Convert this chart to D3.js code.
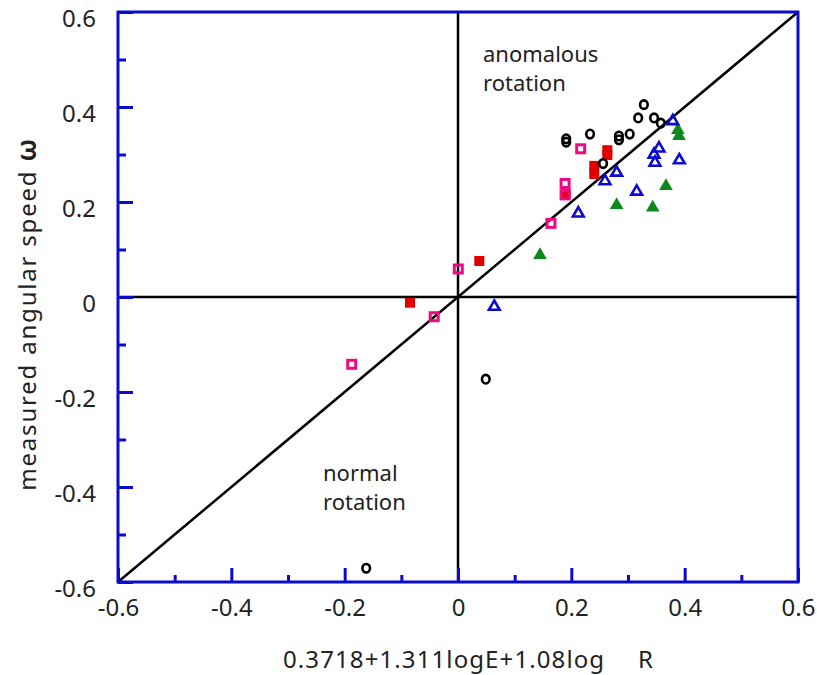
<!DOCTYPE html>
<html>
<head>
<meta charset="utf-8">
<script src="https://cdn.jsdelivr.net/npm/d3@7"></script>
<style>
  body { margin: 0; background: #fff; }
  svg { display: block; }
  text { font-family: "Noto Sans", "DejaVu Sans", sans-serif; fill: #222; }
</style>
</head>
<body>
<svg id="chart" width="817" height="675"></svg>
<script>
// Tick values for both axes
const majorTicks = [-0.6, -0.4, -0.2, 0, 0.2, 0.4, 0.6];
const minorTicks = [-0.5, -0.3, -0.1, 0.1, 0.3, 0.5];

// Series: [predicted, measured ω]
const blackCircles = [
  [0.191, 0.326], [0.191, 0.333], [0.233, 0.343], [0.284, 0.331], [0.284, 0.339],
  [0.303, 0.343], [0.318, 0.377], [0.328, 0.405], [0.346, 0.377], [0.358, 0.366],
  [0.256, 0.281], [0.049, -0.173], [-0.162, -0.571]
];
const pinkOpenSquares = [
  [0.2165, 0.312], [0.189, 0.239], [0.189, 0.215], [0.164, 0.155],
  [0.0005, 0.059], [-0.042, -0.0415], [-0.1876, -0.1417]
];
const redFilledSquares = [
  [0.2635, 0.309], [0.2635, 0.299], [0.2405, 0.276], [0.2405, 0.259],
  [0.190, 0.217], [0.0376, 0.0758], [-0.0847, -0.012]
];
const blueOpenTriangles = [
  [0.3547, 0.313], [0.3459, 0.300], [0.3476, 0.283], [0.3905, 0.288],
  [0.280, 0.262], [0.2594, 0.244], [0.3153, 0.222], [0.2123, 0.176],
  [0.064, -0.0204], [0.379, 0.3705]
];
const greenFilledTriangles = [
  [0.367, 0.2337], [0.280, 0.1937], [0.3436, 0.188], [0.1447, 0.0884],
  [0.388, 0.3516], [0.390, 0.339]
];

const svg = d3.select("#chart");
const L = 118, R = 798, T = 12, B = 582;
const x = d3.scaleLinear().domain([-0.6, 0.6]).range([L, R]);
const y = d3.scaleLinear().domain([-0.6, 0.6]).range([B, T]);

const axisBlue = "#0a0ad0";
const fmt = d => String(d);

// Reference lines: axes through origin and the y = x diagonal
const ref = svg.append("g").attr("stroke", "#000").attr("stroke-width", 2.5);
ref.append("line").attr("x1", x(-0.6)).attr("x2", x(0.6)).attr("y1", y(0)).attr("y2", y(0));
ref.append("line").attr("x1", x(0)).attr("x2", x(0)).attr("y1", y(-0.6)).attr("y2", y(0.6));
ref.append("line").attr("x1", x(-0.6)).attr("y1", y(-0.6)).attr("x2", x(0.6)).attr("y2", y(0.6));

// Frame
svg.append("rect").attr("x", L).attr("y", T).attr("width", R - L).attr("height", B - T)
  .attr("fill", "none").attr("stroke", axisBlue).attr("stroke-width", 3);

function styleAxis(g) {
  g.select(".domain").remove();
  g.selectAll(".tick line").attr("stroke", axisBlue).attr("stroke-width", 3);
  g.selectAll(".tick text").attr("font-size", 24).attr("fill", "#222")
    .attr("font-family", '"Noto Sans", "DejaVu Sans", sans-serif');
}

// Left axis: inward ticks
svg.append("g").attr("transform", `translate(${L},0)`)
  .call(d3.axisLeft(y).tickValues(majorTicks).tickSize(-15).tickPadding(22).tickFormat(fmt))
  .call(styleAxis)
  .selectAll(".tick text").attr("dy", "0.62em");
svg.append("g").attr("transform", `translate(${L},0)`)
  .call(d3.axisLeft(y).tickValues(minorTicks).tickSize(-8).tickFormat(""))
  .call(styleAxis);

// Bottom axis: inward ticks
svg.append("g").attr("transform", `translate(0,${B})`)
  .call(d3.axisBottom(x).tickValues(majorTicks).tickSize(-14).tickPadding(17).tickFormat(fmt))
  .call(styleAxis);
svg.append("g").attr("transform", `translate(0,${B})`)
  .call(d3.axisBottom(x).tickValues(minorTicks).tickSize(-7).tickFormat(""))
  .call(styleAxis);

// Markers
const sq = 10;

svg.append("g").selectAll("rect").data(redFilledSquares).join("rect")
  .attr("x", d => x(d[0]) - sq / 2).attr("y", d => y(d[1]) - sq / 2)
  .attr("width", sq).attr("height", sq).attr("fill", "#e00000");

svg.append("g").selectAll("rect").data(pinkOpenSquares).join("rect")
  .attr("x", d => x(d[0]) - 4).attr("y", d => y(d[1]) - 4)
  .attr("width", 8).attr("height", 8).attr("fill", "none").attr("stroke", "#ec0a84").attr("stroke-width", 3);

svg.append("g").selectAll("path").data(greenFilledTriangles).join("path")
  .attr("d", d3.symbol().type(d3.symbolTriangle).size(80))
  .attr("transform", d => `translate(${x(d[0])},${y(d[1])})`)
  .attr("fill", "#0a8a1a");

svg.append("g").selectAll("path").data(blueOpenTriangles).join("path")
  .attr("d", d3.symbol().type(d3.symbolTriangle).size(50))
  .attr("transform", d => `translate(${x(d[0])},${y(d[1])})`)
  .attr("fill", "none").attr("stroke", "#0a0ad0").attr("stroke-width", 2.6);

svg.append("g").selectAll("ellipse").data(blackCircles).join("ellipse")
  .attr("cx", d => x(d[0])).attr("cy", d => y(d[1])).attr("rx", 3.8).attr("ry", 4.3)
  .attr("fill", "none").attr("stroke", "#000").attr("stroke-width", 2.6);

// Region annotations
const ann = svg.append("g").attr("font-size", 22).attr("fill", "#222");
ann.append("text").attr("x", 483).attr("y", 62).text("anomalous");
ann.append("text").attr("x", 483).attr("y", 91).text("rotation");
ann.append("text").attr("x", 323).attr("y", 481).text("normal");
ann.append("text").attr("x", 323).attr("y", 510).text("rotation");

// Axis titles
svg.append("text").attr("x", 283).attr("y", 668).attr("font-size", 24)
  .attr("letter-spacing", 1.1).text("0.3718+1.311logE+1.08log");
svg.append("text").attr("x", 638).attr("y", 668).attr("font-size", 24).text("R");

const yt = svg.append("text").attr("transform", "translate(36,314) rotate(-90)")
  .attr("text-anchor", "middle").attr("font-size", 24).attr("letter-spacing", 1.8);
yt.append("tspan").text("measured angular speed  ");
yt.append("tspan").attr("font-weight", "bold").attr("font-size", 26).text("ω");
</script>
</body>
</html>
